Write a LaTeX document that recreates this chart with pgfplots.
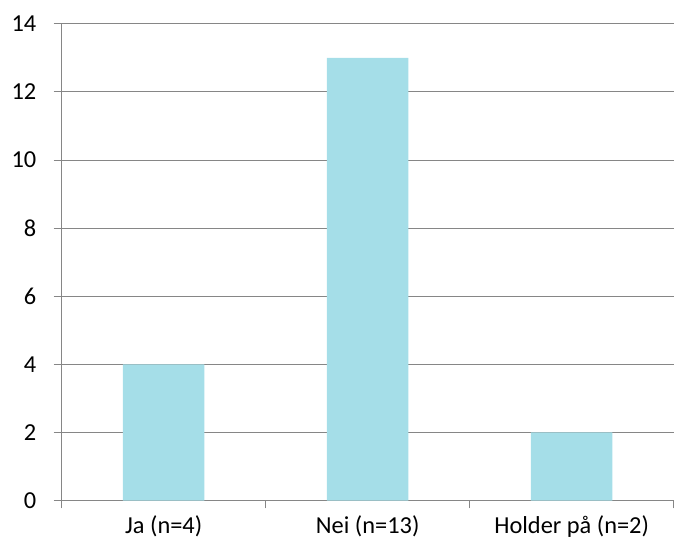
\documentclass[border=0pt]{standalone}
\usepackage{pgfplots}
\pgfplotsset{compat=1.18}
\usepackage{fontspec}
\setmainfont{Carlito}
\definecolor{barblue}{RGB}{165,222,232}
\definecolor{gridgray}{RGB}{134,134,134}
\begin{document}
\begin{tikzpicture}
\begin{axis}[
  scale only axis,
  width=615pt, height=479pt,
  xmin=-0.5, xmax=2.5,
  ymin=0, ymax=14,
  ytick={0,2,...,14},
  xtick={-0.5,0.5,1.5,2.5},
  xticklabels={},
  extra x ticks={0,1,2},
  extra x tick labels={Ja (n=4), Nei (n=13), Holder på (n=2)},
  extra x tick style={xtick style={draw=none}, major tick length=0pt, xticklabel style={yshift=-12pt}},
  axis lines*=left,
  axis line style={draw=gridgray, line width=1pt},
  ymajorgrids,
  grid style={draw=gridgray, line width=1pt},
  tick align=outside,
  major tick length=8pt,
  tick style={draw=gridgray, line width=1pt},
  ytick pos=left,
  tick label style={font=\fontsize{24.5}{29}\selectfont, text=black},
  /pgf/number format/assume math mode=true,
  yticklabel style={xshift=-14pt},
  ybar, bar width=82pt,
  clip=false,
]
\addplot[fill=barblue, draw=none] coordinates {(0,4) (1,13) (2,2)};
\end{axis}
\path ([xshift=-62pt,yshift=-46pt]current axis.south west) rectangle ([yshift=24pt]current axis.north east);
\end{tikzpicture}
\end{document}
